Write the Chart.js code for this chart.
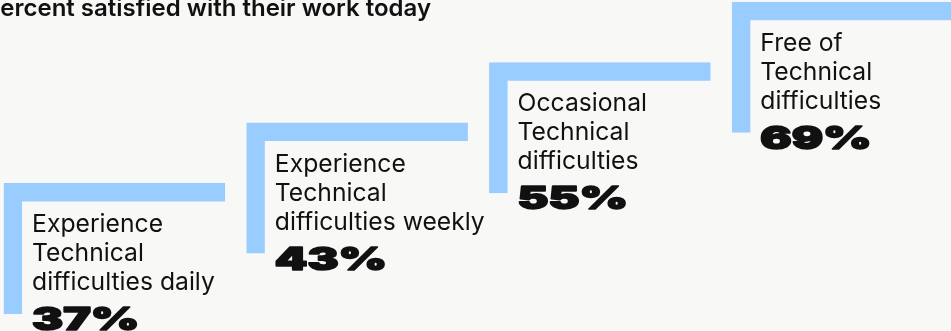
<!DOCTYPE html>
<html>
<head>
<meta charset="utf-8">
<script src="https://cdn.jsdelivr.net/npm/chart.js@4/dist/chart.umd.min.js"></script>
<style>
  html, body { margin: 0; padding: 0; width: 951px; height: 331px; overflow: hidden; background: #f8f8f6; }
  #wrap { position: absolute; left: -7px; top: 0; width: 971px; height: 331px; }
  #title { position: absolute; left: -15px; top: -7px; font: 600 24px Inter, sans-serif; color: #111; white-space: nowrap; line-height: 30px; }
</style>
</head>
<body>
<div id="wrap"><canvas id="chart"></canvas></div>
<div id="title">Percent satisfied with their work today</div>
<script>
// Categories (one label line per entry) and the share satisfied in each
const categories = [
  ['Experience', 'Technical', 'difficulties daily'],
  ['Experience', 'Technical', 'difficulties weekly'],
  ['Occasional', 'Technical', 'difficulties'],
  ['Free of', 'Technical', 'difficulties']
];
const values = [37, 43, 55, 69];

// Each staircase step sits one level higher, ordered by the satisfaction value
const steps = values.map((v) => values.filter((w) => w <= v).length);

const BLUE = '#99ccff';
const INK = '#111111';
const STEP_DEPTH = 2.168;   // length of the step's riser, in levels
const CAP = 18.5;           // tread thickness, px
const RISER = 18.5;         // riser width, px

// Writes the category text and the big percentage inside each step
const stepLabels = {
  id: 'stepLabels',
  afterDatasetsDraw(chart) {
    const { ctx } = chart;
    const xs = chart.scales.x;
    const ys = chart.scales.y;
    const meta = chart.getDatasetMeta(0);
    categories.forEach((lines, i) => {
      const barW = meta.data[i].width;
      const left = xs.getPixelForValue(i) - barW / 2 + 28.5;
      const top = ys.getPixelForValue(steps[i]);
      const first = top + 49;
      const lineH = 29;
      ctx.save();
      ctx.fillStyle = INK;
      ctx.strokeStyle = INK;
      ctx.textBaseline = 'alphabetic';
      ctx.textAlign = 'left';
      ctx.font = '400 24.7px Inter, sans-serif';
      lines.forEach((line, k) => ctx.fillText(line, left, first + k * lineH));
      const vy = first + (lines.length - 1) * lineH + 40;
      ctx.translate(left, vy);
      ctx.scale(1.5, 1);
      ctx.font = '900 31px Inter, sans-serif';
      ctx.lineWidth = 1.6;
      ctx.lineJoin = 'round';
      ctx.fillText(values[i] + '%', 0, 0);
      ctx.strokeText(values[i] + '%', 0, 0);
      ctx.restore();
    });
  }
};

new Chart(document.getElementById('chart'), {
  type: 'bar',
  data: {
    labels: categories,
    datasets: [{
      data: steps.map((s) => [s - STEP_DEPTH, s]),
      backgroundColor: 'rgba(0,0,0,0)',
      borderColor: BLUE,
      borderWidth: { top: CAP, left: RISER, right: 0, bottom: 0 },
      borderSkipped: false,
      inflateAmount: 0,
      categoryPercentage: 1,
      barPercentage: 0.913
    }]
  },
  options: {
    responsive: true,
    maintainAspectRatio: false,
    animation: false,
    layout: { padding: 0 },
    plugins: { legend: { display: false }, tooltip: { enabled: false }, title: { display: false } },
    scales: {
      x: { display: false },
      y: { display: false, min: -1.449, max: 4.028 }
    }
  },
  plugins: [stepLabels]
});
</script>
</body>
</html>
